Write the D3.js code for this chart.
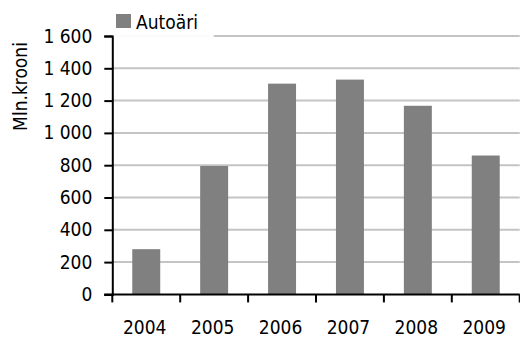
<!DOCTYPE html>
<html><head><meta charset="utf-8">
<script src="https://cdn.jsdelivr.net/npm/d3@7"></script>
<style>html,body{margin:0;padding:0;background:#fff;} svg{display:block;}</style>
</head><body>
<svg id="c" width="520" height="338"></svg>
<script>
const categories = ["2004","2005","2006","2007","2008","2009"];
const values = [280, 795, 1305, 1330, 1168, 860];
const yTicks = [0,200,400,600,800,1000,1200,1400,1600];
const seriesName = "Autoäri";
const yTitle = "Mln.krooni";

const FONT = '"DejaVu Sans Condensed","DejaVu Sans",sans-serif';
const FS = 19;
const svg = d3.select("#c").attr("font-family", FONT);
const x0 = 112.3, x1 = 519.7, yTop = 36, yBot = 294.4;
const x = d3.scaleBand().domain(categories).range([x0, x1]).paddingInner(0.588).paddingOuter(0.294);
const y = d3.scaleLinear().domain([0,1600]).range([yBot, yTop]);
const fmt = d3.formatLocale({decimal:",", thousands:"\u00a0", grouping:[3], currency:["",""]}).format(",d");

// gridlines
svg.append("g").selectAll("line").data(yTicks.filter(d=>d>0)).join("line")
  .attr("x1", x0).attr("x2", x1).attr("y1", d=>y(d)).attr("y2", d=>y(d))
  .attr("stroke", "#c4c4c4").attr("stroke-width", 2);

// bars
svg.append("g").selectAll("rect").data(values).join("rect")
  .attr("x", (d,i)=>x(categories[i])).attr("width", x.bandwidth())
  .attr("y", d=>y(d)).attr("height", d=>yBot - y(d))
  .attr("fill", "#808080");

// y axis
const ya = svg.append("g").attr("transform", `translate(${x0},0)`)
  .call(d3.axisLeft(y).tickValues(yTicks).tickFormat(fmt).tickSize(8).tickPadding(12));
ya.attr("font-family", FONT).attr("font-size", FS);
ya.select(".domain").attr("stroke", "#000").attr("stroke-width", 2);
ya.selectAll(".tick line").attr("stroke", "#000").attr("stroke-width", 2);
ya.selectAll(".tick text").attr("fill", "#000");

// x axis
const xEdges = d3.scaleLinear().domain([0, categories.length]).range([x0, x1]);
const xa = svg.append("g").attr("transform", `translate(0,${yBot})`);
xa.append("line").attr("x1", x0 - 8).attr("x2", x1).attr("y1", 0).attr("y2", 0)
  .attr("stroke", "#000").attr("stroke-width", 2);
xa.selectAll("line.t").data(d3.range(categories.length + 1)).join("line").attr("class","t")
  .attr("x1", d=>xEdges(d)).attr("x2", d=>xEdges(d)).attr("y1", 0).attr("y2", 8)
  .attr("stroke", "#000").attr("stroke-width", 2);
xa.selectAll("text").data(categories).join("text")
  .attr("x", d=>x(d) + x.bandwidth()/2 - 1.5).attr("y", 40)
  .attr("text-anchor", "middle").attr("font-size", FS).attr("fill", "#000").text(d=>d);

// y title
svg.append("text").attr("transform", "translate(26.5,86.5) rotate(-90)")
  .attr("text-anchor", "middle").attr("font-size", FS).attr("fill", "#000").text(yTitle);

// legend
svg.append("rect").attr("x", x0 + 1.5).attr("y", 4).attr("width", 100).attr("height", 33)
  .attr("fill", "#fff").attr("fill-opacity", 0.93);
svg.append("rect").attr("x", 116).attr("y", 14).attr("width", 15).attr("height", 14).attr("fill", "#808080");
svg.append("text").attr("x", 136).attr("y", 28.5).attr("font-size", FS).attr("fill", "#000").text(seriesName);
</script>
</body></html>
